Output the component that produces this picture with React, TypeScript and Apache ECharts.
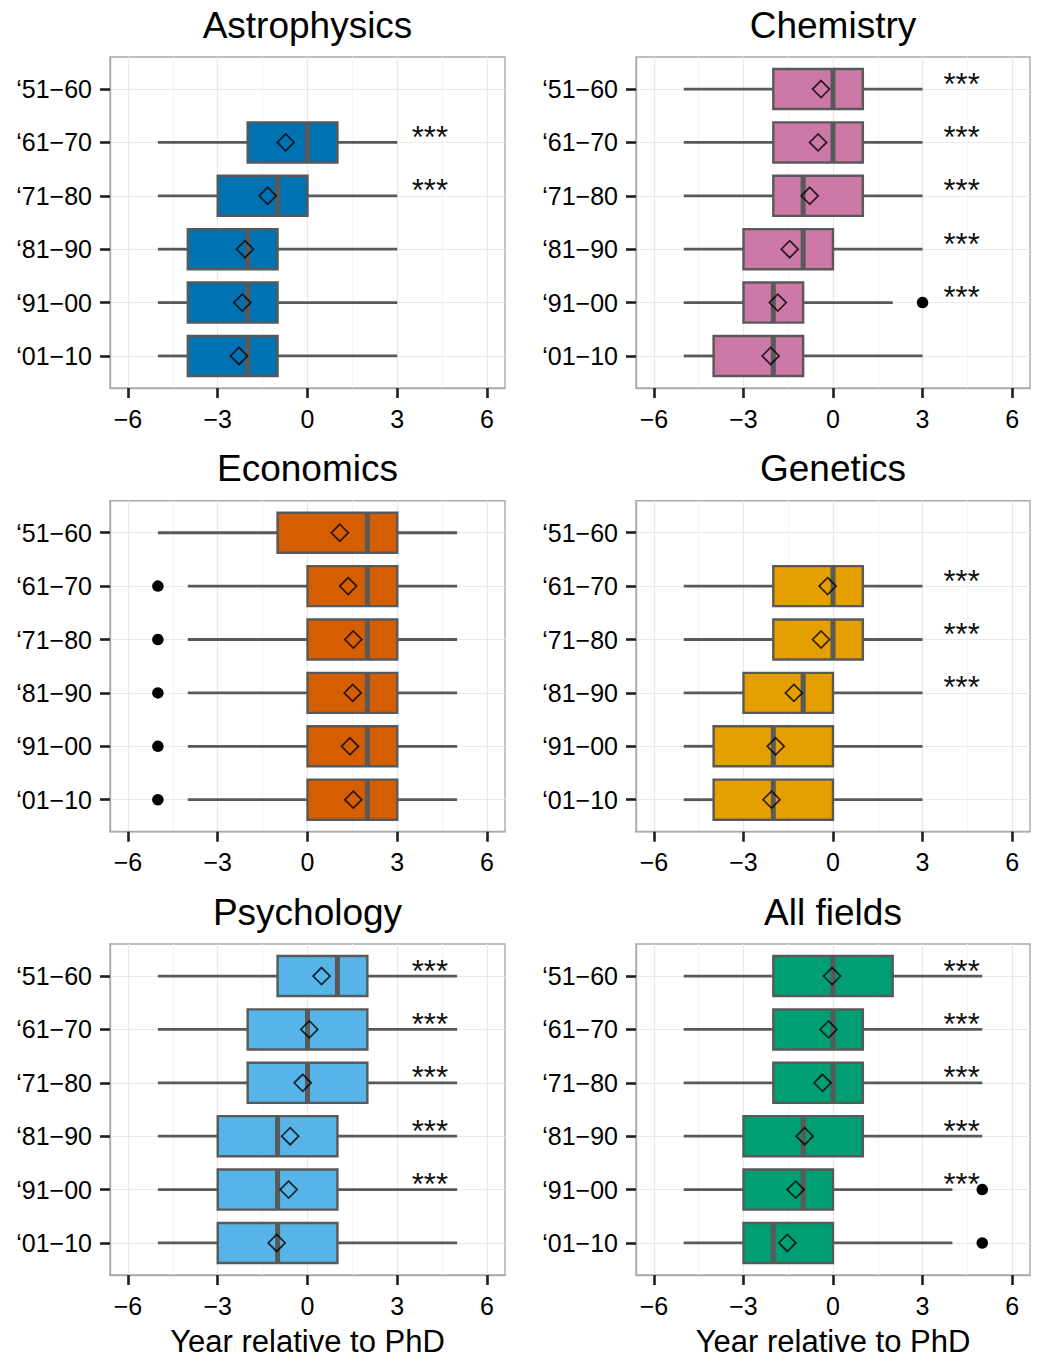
import React, { useEffect, useRef } from 'react';
import * as echarts from 'echarts';

const FONT = '"Liberation Sans", Arial, Helvetica, sans-serif';

const decades = ['‘51−60', '‘61−70', '‘71−80', '‘81−90', '‘91−00', '‘01−10'];
const xTicks = [-6, -3, 0, 3, 6];
const xTickLabels = ['−6', '−3', '0', '3', '6'];
const xMinor = [-4.5, -1.5, 1.5, 4.5];
const xAxisTitle = 'Year relative to PhD';

// each box: [lower whisker, Q1, median, Q3, upper whisker]; null = no data
const astroBoxes = [null, [-5, -2, 0, 1, 3], [-5, -3, -1, 0, 3], [-5, -4, -2, -1, 3], [-5, -4, -2, -1, 3], [-5, -4, -2, -1, 3]];
const astroMeans = [null, -0.73, -1.33, -2.09, -2.18, -2.29];
const astroOutliers: number[][] = [];
const astroStars = [false, true, true, false, false, false];

const chemBoxes = [[-5, -2, 0, 1, 3], [-5, -2, 0, 1, 3], [-5, -2, -1, 1, 3], [-5, -3, -1, 0, 3], [-5, -3, -2, -1, 2], [-5, -4, -2, -1, 3]];
const chemMeans = [-0.4, -0.5, -0.78, -1.45, -1.85, -2.09];
const chemOutliers = [[3, 4]]; // [value, decade index]
const chemStars = [true, true, true, true, true, false];

const econBoxes = [[-5, -1, 2, 3, 5], [-4, 0, 2, 3, 5], [-4, 0, 2, 3, 5], [-4, 0, 2, 3, 5], [-4, 0, 2, 3, 5], [-4, 0, 2, 3, 5]];
const econMeans = [1.08, 1.36, 1.53, 1.51, 1.42, 1.53];
const econOutliers = [[-5, 1], [-5, 2], [-5, 3], [-5, 4], [-5, 5]];
const econStars = [false, false, false, false, false, false];

const geneBoxes = [null, [-5, -2, 0, 1, 3], [-5, -2, 0, 1, 3], [-5, -3, -1, 0, 3], [-5, -4, -2, 0, 3], [-5, -4, -2, 0, 3]];
const geneMeans = [null, -0.18, -0.4, -1.31, -1.92, -2.06];
const geneOutliers: number[][] = [];
const geneStars = [false, true, true, true, false, false];

const psychBoxes = [[-5, -1, 1, 2, 5], [-5, -2, 0, 2, 5], [-5, -2, 0, 2, 5], [-5, -3, -1, 1, 5], [-5, -3, -1, 1, 5], [-5, -3, -1, 1, 5]];
const psychMeans = [0.47, 0.06, -0.16, -0.58, -0.63, -1.03];
const psychOutliers: number[][] = [];
const psychStars = [true, true, true, true, true, false];

const allBoxes = [[-5, -2, 0, 2, 5], [-5, -2, 0, 1, 5], [-5, -2, 0, 1, 5], [-5, -3, -1, 1, 5], [-5, -3, -1, 0, 4], [-5, -3, -2, 0, 4]];
const allMeans = [-0.03, -0.15, -0.35, -0.95, -1.25, -1.53];
const allOutliers = [[5, 4], [5, 5]];
const allStars = [true, true, true, true, true, false];

const panels = [
  { title: 'Astrophysics', color: '#0072B2', boxes: astroBoxes, means: astroMeans, outliers: astroOutliers, stars: astroStars },
  { title: 'Chemistry', color: '#CC79A7', boxes: chemBoxes, means: chemMeans, outliers: chemOutliers, stars: chemStars },
  { title: 'Economics', color: '#D55E00', boxes: econBoxes, means: econMeans, outliers: econOutliers, stars: econStars },
  { title: 'Genetics', color: '#E69F00', boxes: geneBoxes, means: geneMeans, outliers: geneOutliers, stars: geneStars },
  { title: 'Psychology', color: '#56B4E9', boxes: psychBoxes, means: psychMeans, outliers: psychOutliers, stars: psychStars },
  { title: 'All fields', color: '#009E73', boxes: allBoxes, means: allMeans, outliers: allOutliers, stars: allStars },
];

// layout (pixels)
const colLeft = [110, 636];
const colWidth = [395, 394];
const rowTop = [57, 500.7, 944];
const plotH = 331;
const titleY = [25, 468, 912];
const starXByCol = [4.09, 4.31];

const GRID_MAJOR = '#e9e9e9';
const GRID_MINOR = '#f4f4f4';
const OUTLINE = '#595959';
const TICK = '#1f1f1f';
const BORDER = '#ababab';

function buildOption() {
  const yVals = decades.map((_, k) => k + 1);
  const grid: any[] = [];
  const xAxis: any[] = [];
  const yAxis: any[] = [];
  const series: any[] = [];
  const graphic: any[] = [];

  panels.forEach((p, i) => {
    const col = i % 2;
    const row = Math.floor(i / 2);
    grid.push({
      left: colLeft[col], top: rowTop[row], width: colWidth[col], height: plotH,
      show: true, borderColor: BORDER, borderWidth: 1.4, backgroundColor: '#ffffff',
      containLabel: false, outerBoundsMode: 'none',
    });
    xAxis.push({
      type: 'value', gridIndex: i, min: -6.6, max: 6.6, position: 'bottom',
      axisLine: { show: true, onZero: false, lineStyle: { color: BORDER, width: 1.4 } },
      axisTick: { show: true, length: 10, customValues: xTicks, lineStyle: { color: TICK, width: 2.6 } },
      axisLabel: {
        customValues: xTicks, margin: 18, fontSize: 25, color: '#000', fontFamily: FONT,
        formatter: (v: number) => {
          const k = xTicks.findIndex((t) => Math.abs(t - v) < 1e-6);
          return k >= 0 ? xTickLabels[k] : '';
        },
      },
      splitLine: { show: true, lineStyle: { color: GRID_MAJOR, width: 1.2 } },
      name: row === 2 ? xAxisTitle : '',
      nameLocation: 'middle', nameGap: 51,
      nameTextStyle: { fontSize: 31, color: '#000', fontFamily: FONT },
    });
    xAxis.push({
      type: 'value', gridIndex: i, min: -6.6, max: 6.6, position: 'top',
      axisLine: { show: false, onZero: false },
      axisTick: { show: false, customValues: xMinor },
      axisLabel: { show: false, customValues: xMinor },
      splitLine: { show: true, lineStyle: { color: GRID_MINOR, width: 1.2 } },
    });
    yAxis.push({
      type: 'value', gridIndex: i, min: 0.4, max: 6.6, inverse: true, position: 'left',
      axisLine: { show: true, onZero: false, lineStyle: { color: BORDER, width: 1.4 } },
      axisTick: { show: true, length: 10, customValues: yVals, lineStyle: { color: TICK, width: 2.6 } },
      axisLabel: {
        customValues: yVals, margin: 18, fontSize: 25, color: '#000', fontFamily: FONT,
        formatter: (v: number) => decades[Math.round(v) - 1] || '',
      },
      splitLine: { show: true, lineStyle: { color: GRID_MAJOR, width: 1.2 } },
    });

    const boxData = p.boxes
      .map((b, k) => (b ? [...b, k + 1] : null))
      .filter((d) => d !== null);
    series.push({
      type: 'custom', xAxisIndex: 2 * i, yAxisIndex: i, z: 2,
      data: boxData,
      encode: { x: [0, 1, 2, 3, 4], y: 5 },
      renderItem: (_params: any, api: any) => {
        const y = api.value(5);
        const lo = api.coord([api.value(0), y]);
        const q1 = api.coord([api.value(1), y]);
        const md = api.coord([api.value(2), y]);
        const q3 = api.coord([api.value(3), y]);
        const hi = api.coord([api.value(4), y]);
        const h = api.size([0, 0.75])[1];
        return {
          type: 'group',
          children: [
            { type: 'line', shape: { x1: lo[0], y1: lo[1], x2: q1[0], y2: q1[1] }, style: { stroke: OUTLINE, lineWidth: 2.8 } },
            { type: 'line', shape: { x1: q3[0], y1: q3[1], x2: hi[0], y2: hi[1] }, style: { stroke: OUTLINE, lineWidth: 2.8 } },
            { type: 'rect', shape: { x: q1[0], y: q1[1] - h / 2, width: q3[0] - q1[0], height: h }, style: { fill: p.color, stroke: OUTLINE, lineWidth: 2.4 } },
            { type: 'line', shape: { x1: md[0], y1: md[1] - h / 2, x2: md[0], y2: md[1] + h / 2 }, style: { stroke: OUTLINE, lineWidth: 5 } },
          ],
        };
      },
    });

    const meanData = p.means
      .map((m, k) => (m === null ? null : [m, k + 1]))
      .filter((d) => d !== null);
    series.push({
      type: 'scatter', xAxisIndex: 2 * i, yAxisIndex: i, z: 3,
      data: meanData, symbol: 'diamond', symbolSize: 17,
      itemStyle: { color: 'rgba(0,0,0,0)', borderColor: '#000', borderWidth: 1.7 },
      emphasis: { disabled: true },
    });

    if (p.outliers.length) {
      series.push({
        type: 'scatter', xAxisIndex: 2 * i, yAxisIndex: i, z: 3,
        data: p.outliers.map((o) => [o[0], o[1] + 1]),
        symbol: 'circle', symbolSize: 11.5,
        itemStyle: { color: '#000', opacity: 1 },
        emphasis: { disabled: true },
      });
    }

    const starData = p.stars
      .map((s, k) => (s ? [starXByCol[col], k + 1] : null))
      .filter((d) => d !== null);
    if (starData.length) {
      series.push({
        type: 'custom', xAxisIndex: 2 * i, yAxisIndex: i, z: 4,
        data: starData,
        encode: { x: 0, y: 1 },
        renderItem: (_params: any, api: any) => {
          const c = api.coord([api.value(0), api.value(1)]);
          return {
            type: 'text', x: c[0], y: c[1] - 5,
            style: { text: '***', fontSize: 31, fontFamily: FONT, fill: '#111', align: 'center', verticalAlign: 'middle' },
          };
        },
      });
    }

    graphic.push({
      type: 'text',
      x: colLeft[col] + colWidth[col] / 2,
      y: titleY[row],
      style: { text: p.title, fontSize: 37, fontFamily: FONT, fill: '#000', align: 'center', verticalAlign: 'middle' },
    });
  });

  return {
    animation: false,
    backgroundColor: '#ffffff',
    textStyle: { fontFamily: FONT },
    grid, xAxis, yAxis, series, graphic,
  };
}

export default function App() {
  const ref = useRef<HTMLDivElement>(null);
  useEffect(() => {
    if (!ref.current) return;
    const chart = echarts.init(ref.current, undefined, { renderer: 'svg' });
    chart.setOption(buildOption() as any);
    return () => chart.dispose();
  }, []);
  return (
    <div
      ref={ref}
      style={{ position: 'absolute', left: 0, top: 0, width: 1037, height: 1360, background: '#fff' }}
    />
  );
}
